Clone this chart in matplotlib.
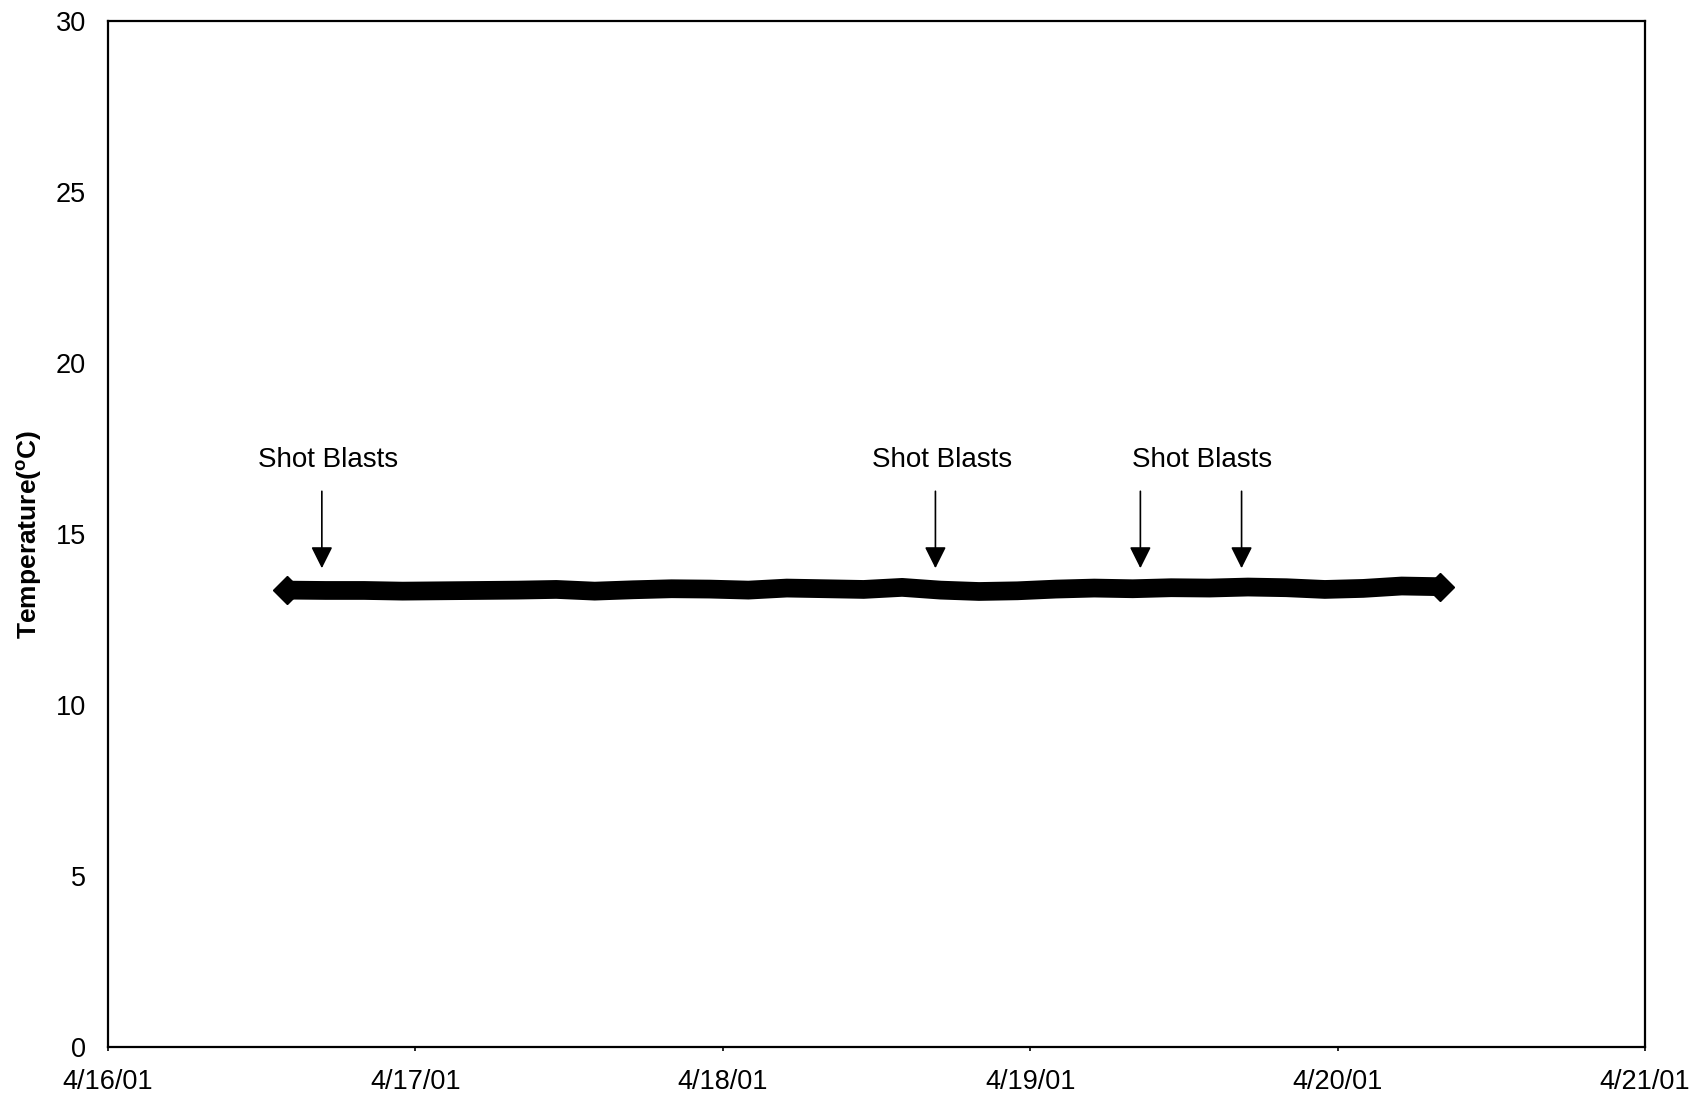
import matplotlib
matplotlib.use('Agg')
import matplotlib.pyplot as plt
import pandas as pd

plt.rcParams['font.family'] = ['Liberation Sans', 'DejaVu Sans']

# Data: hours since 4/16/01 00:00 and temperature (C)
hours = [14, 17, 20, 23, 26, 29, 32, 35, 38, 41, 44, 47, 50, 53, 56, 59,
         62, 65, 68, 71, 74, 77, 80, 83, 86, 89, 92, 95, 98, 101, 104]
temps = [13.36, 13.35, 13.35, 13.33, 13.34, 13.35, 13.36, 13.38, 13.33, 13.37,
         13.40, 13.39, 13.36, 13.42, 13.40, 13.38, 13.44, 13.36, 13.32, 13.34,
         13.39, 13.42, 13.40, 13.43, 13.42, 13.45, 13.43, 13.38, 13.41, 13.48,
         13.46]

# Shot blast events (hours) and labels
blast_hours = [16.7, 64.6, 80.6, 88.5]
label_hours = [17.2, 65.1, 85.4]
label_text = 'Shot Blasts'

tick_labels = ['4/16/01', '4/17/01', '4/18/01', '4/19/01', '4/20/01', '4/21/01']

start = pd.Timestamp('2001-04-16')
times = [start + pd.Timedelta(hours=h) for h in hours]
tick_pos = [start + pd.Timedelta(days=i) for i in range(len(tick_labels))]

fig = plt.figure(figsize=(16.97, 11.02), dpi=100)
ax = fig.add_axes([0.0636, 0.0499, 0.9058, 0.931])

ax.plot(times, temps, color='black', linewidth=13.5, solid_capstyle='round',
        solid_joinstyle='round',
        marker='D', markersize=14, markevery=[0, len(times) - 1])

# arrows and labels
for h in blast_hours:
    t = start + pd.Timedelta(hours=h)
    ax.annotate('', xy=(t, 14.0), xytext=(t, 16.25),
                arrowprops=dict(arrowstyle='-|>', color='black', lw=1.2,
                                mutation_scale=33, shrinkA=0, shrinkB=0))
for h in label_hours:
    t = start + pd.Timedelta(hours=h)
    ax.text(t, 17.16, label_text, fontsize=20, ha='center', va='center')

ax.set_xlim(tick_pos[0], tick_pos[-1])
ax.set_ylim(0, 30)
ax.set_xticks(tick_pos)
ax.set_xticklabels(tick_labels, fontsize=19.5)
ax.set_yticks([0, 5, 10, 15, 20, 25, 30])
ax.set_yticklabels(['0', '5', '10', '15', '20', '25', '30'], fontsize=19.5)
ax.tick_params(axis='y', length=0, pad=16)
ax.tick_params(axis='x', length=3, width=1.2, pad=13)
ax.set_ylabel('Temperature($^{\\mathregular{o}}$C)', fontsize=19, fontweight='bold',
              va='center')
ax.yaxis.set_label_coords(-0.051, 0.5)

for s in ax.spines.values():
    s.set_linewidth(1.6)

fig.savefig('out.png', dpi=100)
